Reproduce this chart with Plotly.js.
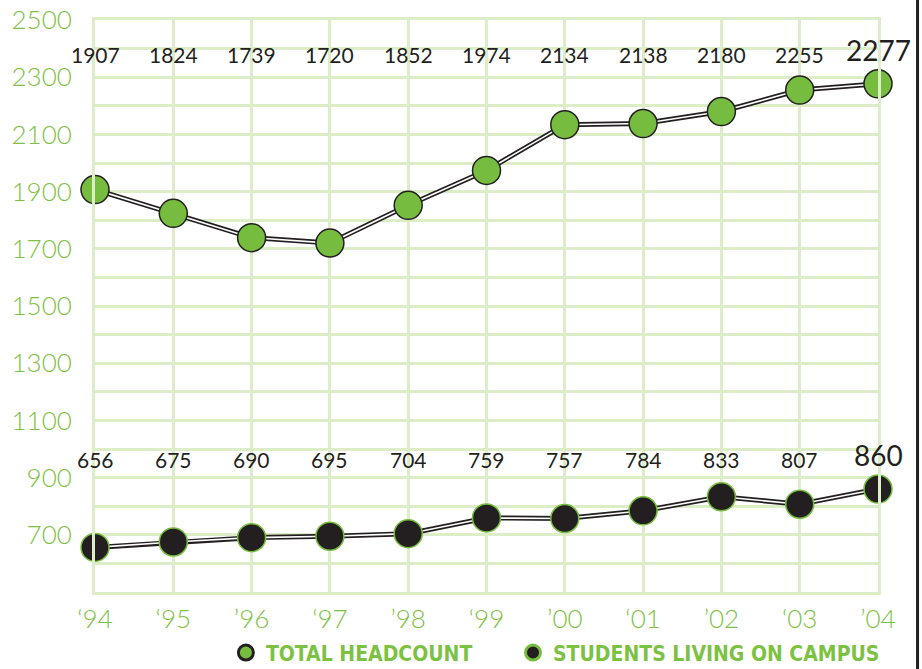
<!DOCTYPE html>
<html>
<head>
<meta charset="utf-8">
<script src="https://cdn.plot.ly/plotly-3.0.1.min.js"></script>
<style>html,body{margin:0;padding:0;background:#fff;}#chart{width:922px;height:669px;}</style>
</head>
<body>
<div id="chart"></div>
<script>
// ---- data ----
var years = ["\u201894", "\u201895", "\u201996", "\u201897", "\u201998", "\u201899", "\u201900", "\u201801", "\u201902", "\u201803", "\u201904"];
var totalHeadcount = [1907, 1824, 1739, 1720, 1852, 1974, 2134, 2138, 2180, 2255, 2277];
var onCampus = [656, 675, 690, 695, 704, 759, 757, 784, 833, 807, 860];
var seriesNames = ["TOTAL HEADCOUNT", "STUDENTS LIVING ON CAMPUS"];
var yTickVals = [700, 900, 1100, 1300, 1500, 1700, 1900, 2100, 2300, 2500];

// ---- style ----
var GREEN = "#76bd3f";
var TEXTGREEN = "#7cc242";
var DARK = "#231f20";
var GRID = "#dcedc8";
var NUMFONT = "Lato, Liberation Sans, sans-serif";

function lineTraces(y) {
  return [
    {x: years, y: y, type: "scatter", mode: "lines", line: {color: DARK, width: 5}, hoverinfo: "skip", showlegend: false, cliponaxis: false},
    {x: years, y: y, type: "scatter", mode: "lines", line: {color: "#ffffff", width: 1.6}, hoverinfo: "skip", showlegend: false, cliponaxis: false}
  ];
}

var traces = [];
traces = traces.concat(lineTraces(totalHeadcount));
traces = traces.concat(lineTraces(onCampus));
traces.push({x: years, y: totalHeadcount, type: "scatter", mode: "markers", showlegend: false, cliponaxis: false,
  marker: {size: 28, color: GREEN, line: {color: DARK, width: 1.5}}});
traces.push({x: years, y: onCampus, type: "scatter", mode: "markers", showlegend: false, cliponaxis: false,
  marker: {size: 28, color: DARK, line: {color: GREEN, width: 1.5}}});
// legend entries
traces.push({x: [null], y: [null], type: "scatter", mode: "markers", name: seriesNames[0], showlegend: true, legend: "legend",
  marker: {size: 15, color: GREEN, line: {color: DARK, width: 3}}});
traces.push({x: [null], y: [null], type: "scatter", mode: "markers", name: seriesNames[1], showlegend: true, legend: "legend2",
  marker: {size: 15, color: DARK, line: {color: GREEN, width: 3}}});

var annotations = [];
years.forEach(function (yr, i) {
  var last = i === years.length - 1;
  annotations.push({x: yr, y: 2328, xref: "x", yref: "y", text: String(totalHeadcount[i]), showarrow: false,
    yanchor: "bottom", font: {family: NUMFONT, size: last ? 28 : 21, color: DARK, weight: 400}});
  annotations.push({x: yr, y: 912, xref: "x", yref: "y", text: String(onCampus[i]), showarrow: false,
    yanchor: "bottom", font: {family: NUMFONT, size: last ? 28 : 21, color: DARK, weight: 400}});
});

var legendFont = {family: "DejaVu Sans Condensed, DejaVu Sans, sans-serif", size: 21, color: TEXTGREEN, weight: "bold"};

var layout = {
  width: 922, height: 669, autosize: false,
  margin: {l: 95, r: 44, t: 20, b: 77, pad: 0},
  paper_bgcolor: "#ffffff", plot_bgcolor: "#ffffff",
  showlegend: true,
  legend: {orientation: "h", xref: "container", yref: "container", x: 0.245, xanchor: "left", y: 0.024, yanchor: "middle",
    bgcolor: "rgba(0,0,0,0)", font: legendFont},
  legend2: {orientation: "h", xref: "container", yref: "container", x: 0.5564, xanchor: "left", y: 0.024, yanchor: "middle",
    bgcolor: "rgba(0,0,0,0)", font: legendFont},
  xaxis: {type: "category", categoryorder: "array", categoryarray: years, range: [0, 10],
    showgrid: true, gridcolor: GRID, gridwidth: 3, showline: true, linecolor: GRID, linewidth: 3, mirror: true,
    ticks: "", ticklabelstandoff: 2, zeroline: false, fixedrange: true,
    tickfont: {family: NUMFONT, size: 26, color: TEXTGREEN, weight: 300}},
  yaxis: {range: [500, 2500], tickmode: "array", tickvals: yTickVals,
    showgrid: true, gridcolor: GRID, gridwidth: 3, showline: true, linecolor: GRID, linewidth: 3, mirror: true,
    minor: {dtick: 100, tick0: 500, showgrid: true, gridcolor: GRID, gridwidth: 3, ticks: ""},
    ticks: "", ticklabelstandoff: 15, zeroline: false, fixedrange: true,
    tickfont: {family: NUMFONT, size: 26, color: TEXTGREEN, weight: 300}},
  annotations: annotations,
  shapes: [{type: "line", xref: "paper", yref: "paper", x0: 1.0505, x1: 1.0505, y0: -0.2, y1: 1.1,
    line: {color: DARK, width: 3}}]
};

Plotly.newPlot("chart", traces, layout, {displayModeBar: false, staticPlot: true});
</script>
</body>
</html>
